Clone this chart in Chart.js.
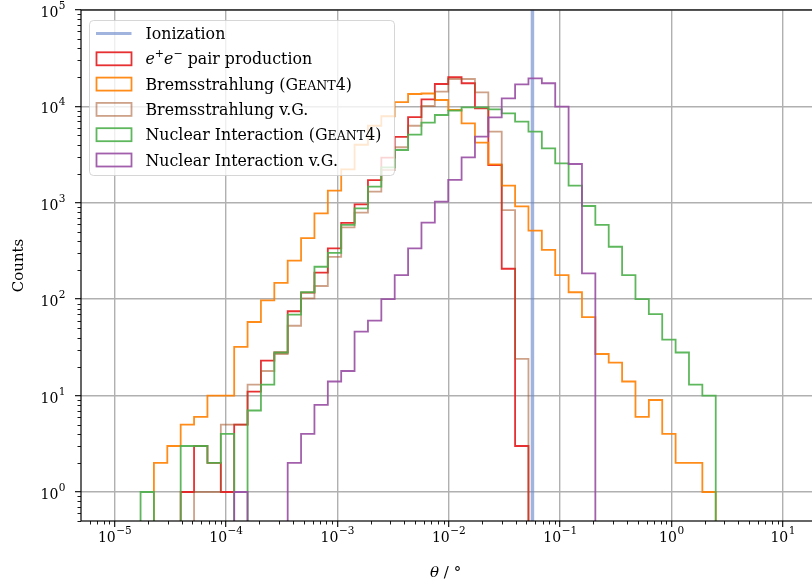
<!DOCTYPE html>
<html>
<head>
    <meta charset="UTF-8">
    <script src="https://cdn.jsdelivr.net/npm/chart.js@4.4.0/dist/chart.umd.min.js"></script>
    <title>Deflection angles</title>
    <style>
        html, body { margin: 0; padding: 0; overflow: hidden; background: #fff; }
        .chart-container { position: relative; width: 840px; height: 587px; }
    </style>
</head>
<body>
    <div class="chart-container">
        <canvas id="angleChart"></canvas>
    </div>

    <script>
        // 43 log-spaced bins between the first and last edge
        const firstEdge = 1.713e-5;
        const lastEdge = 2.505;
        const nBins = 43;
        const binEdges = [];
        for (let i = 0; i <= nBins; i++) {
            const l0 = Math.log10(firstEdge), l1 = Math.log10(lastEdge);
            binEdges.push(Math.pow(10, l0 + i * (l1 - l0) / nBins));
        }

        // counts per bin
        const pairProduction = [0, 0, 0, 1, 3, 2, 1, 5, 11, 23, 28, 75, 117, 189, 337, 620, 965, 1720, 2940, 4820,
            7750, 11840, 17070, 20050, 17380, 9550, 2460, 207, 3, 0, 0, 0, 0, 0, 0, 0, 0, 0, 0, 0, 0, 0, 0];
        const bremsGeant = [0, 2, 3, 5, 6, 10, 10, 32, 58, 97, 148, 251, 430, 778, 1340, 2225, 4000, 6300, 7900, 11100,
            13450, 13600, 11650, 9180, 6670, 4200, 2500, 1510, 920, 514, 324, 178, 118, 65, 27, 22, 14, 6, 9, 4, 2, 2, 1];
        const bremsVG = [0, 0, 0, 0, 1, 1, 5, 5, 13, 18, 27, 53, 102, 137, 275, 557, 790, 1303, 2188, 3770,
            6300, 10090, 14210, 19230, 19230, 14000, 5470, 841, 24, 0, 0, 0, 0, 0, 0, 0, 0, 0, 0, 0, 0, 0, 0];
        const nuclearGeant = [1, 0, 0, 3, 3, 2, 4, 0, 7, 13, 28, 69, 118, 217, 302, 589, 877, 1469, 2335, 3530,
            5100, 6780, 8140, 9040, 9770, 9770, 9330, 8480, 6950, 5470, 3670, 2570, 1510, 926, 589, 350, 178, 100, 70, 38, 28, 13, 10];
        const nuclearVG = [0, 0, 0, 0, 0, 0, 0, 1, 0, 0, 0, 2, 4, 8, 14, 18, 46, 60, 100, 178,
            337, 622, 1026, 1725, 2965, 4850, 7710, 12140, 16950, 19550, 17380, 9930, 2525, 185, 0, 0, 0, 0, 0, 0, 0, 0, 0];
        const ionizationAngle = 0.0566;

        const xMin = 5e-6, xMax = 20;
        const yMin = 0.5, yMax = 1e5;
        const xTickExponents = [-5, -4, -3, -2, -1, 0, 1];
        const yTickExponents = [0, 1, 2, 3, 4, 5];

        const FONT = '"DejaVu Serif", serif';

        // empty bins sit below the log axis, so the line drops out of the plot (clipped)
        const belowAxis = yMin / 10;
        function stepPoints(counts) {
            const y = c => (c > 0 ? c : belowAxis);
            const pts = [{ x: binEdges[0], y: belowAxis }];
            counts.forEach((c, i) => pts.push({ x: binEdges[i], y: y(c) }));
            pts.push({ x: binEdges[nBins], y: y(counts[nBins - 1]) });
            pts.push({ x: binEdges[nBins], y: belowAxis });
            return pts;
        }

        const legendItems = [
            { color: 'rgba(110,140,205,0.65)', line: true, parts: [{ t: 'Ionization' }] },
            { color: 'rgba(228,26,28,0.9)', parts: [{ t: 'e', it: true }, { t: '+', sup: true }, { t: 'e', it: true }, { t: '\u2212', sup: true }, { t: ' pair production' }] },
            { color: 'rgba(255,127,0,0.9)', parts: [{ t: 'Bremsstrahlung (G' }, { t: 'EANT', sc: true }, { t: '4)' }] },
            { color: 'rgba(166,86,40,0.55)', parts: [{ t: 'Bremsstrahlung v.G.' }] },
            { color: 'rgba(77,175,74,0.9)', parts: [{ t: 'Nuclear Interaction (G' }, { t: 'EANT', sc: true }, { t: '4)' }] },
            { color: 'rgba(152,78,163,0.9)', parts: [{ t: 'Nuclear Interaction v.G.' }] }
        ];

        function drawPower(ctx, exp, x, y, align) {
            const base = '10';
            const sup = exp < 0 ? '\u2212' + (-exp) : String(exp);
            ctx.font = '14px ' + FONT;
            const wb = ctx.measureText(base).width;
            ctx.font = '10.5px ' + FONT;
            const ws = ctx.measureText(sup).width;
            const x0 = align === 'center' ? x - (wb + ws) / 2 : x - wb - ws;
            ctx.textAlign = 'left';
            ctx.textBaseline = 'alphabetic';
            ctx.font = '14px ' + FONT;
            ctx.fillText(base, x0, y);
            ctx.font = '10.5px ' + FONT;
            ctx.fillText(sup, x0 + wb + 0.5, y - 8);
        }

        function drawRich(ctx, parts, x, y) {
            let cx = x;
            parts.forEach(p => {
                let size = 15.8, dy = 0, style = '';
                if (p.sc) size = 12.6;
                if (p.sup) { size = 11; dy = -7; }
                if (p.it) style = 'italic ';
                ctx.font = style + size + 'px ' + FONT;
                ctx.fillText(p.t, cx, y + dy);
                cx += ctx.measureText(p.t).width;
            });
        }

        const decorPlugin = {
            id: 'decor',
            afterDatasetsDraw(chart) {
                const ctx = chart.ctx, a = chart.chartArea;
                const xs = chart.scales.x, ys = chart.scales.y;
                ctx.save();

                // frame
                ctx.strokeStyle = '#000';
                ctx.lineWidth = 1.2;
                ctx.strokeRect(a.left, a.top, a.right - a.left, a.bottom - a.top);

                // minor ticks
                ctx.lineWidth = 0.9;
                ctx.beginPath();
                for (let e = -6; e <= 1; e++) {
                    for (let m = 2; m <= 9; m++) {
                        const v = m * Math.pow(10, e);
                        if (v < xMin || v > xMax) continue;
                        const px = Math.round(xs.getPixelForValue(v)) + 0.5;
                        ctx.moveTo(px, a.bottom);
                        ctx.lineTo(px, a.bottom + 3.5);
                    }
                }
                for (let e = -1; e <= 4; e++) {
                    for (let m = 2; m <= 9; m++) {
                        const v = m * Math.pow(10, e);
                        if (v < yMin || v > yMax) continue;
                        const py = Math.round(ys.getPixelForValue(v)) + 0.5;
                        ctx.moveTo(a.left, py);
                        ctx.lineTo(a.left - 3.5, py);
                    }
                }
                ctx.stroke();

                // tick labels
                ctx.fillStyle = '#000';
                xTickExponents.forEach(e => {
                    drawPower(ctx, e, xs.getPixelForValue(Math.pow(10, e)), a.bottom + 21, 'center');
                });
                yTickExponents.forEach(e => {
                    drawPower(ctx, e, 65, ys.getPixelForValue(Math.pow(10, e)) + 7, 'right');
                });

                // axis titles
                ctx.textBaseline = 'alphabetic';
                ctx.font = 'italic 15px ' + FONT;
                const wTheta = ctx.measureText('\u03b8').width;
                ctx.font = '15px ' + FONT;
                const wRest = ctx.measureText(' / \u00b0').width;
                const cx = (a.left + a.right) / 2 - 3 - (wTheta + wRest) / 2;
                ctx.textAlign = 'left';
                ctx.font = 'italic 15px ' + FONT;
                ctx.fillText('\u03b8', cx, 577);
                ctx.font = '15px ' + FONT;
                ctx.fillText(' / \u00b0', cx + wTheta, 577);

                ctx.save();
                ctx.translate(23, (a.top + a.bottom) / 2);
                ctx.rotate(-Math.PI / 2);
                ctx.textAlign = 'center';
                ctx.font = '15px ' + FONT;
                ctx.fillText('Counts', 0, 0);
                ctx.restore();

                // legend
                ctx.beginPath();
                ctx.roundRect(89.5, 20.5, 305, 155, 4);
                ctx.fillStyle = 'rgba(255,255,255,0.8)';
                ctx.fill();
                ctx.strokeStyle = 'rgba(204,204,204,0.8)';
                ctx.lineWidth = 1;
                ctx.stroke();
                legendItems.forEach((item, i) => {
                    const cy = 33.5 + i * 25.3;
                    if (item.line) {
                        ctx.strokeStyle = item.color;
                        ctx.lineWidth = 3.2;
                        ctx.beginPath();
                        ctx.moveTo(96, cy);
                        ctx.lineTo(131.5, cy);
                        ctx.stroke();
                    } else {
                        ctx.strokeStyle = item.color;
                        ctx.lineWidth = 1.8;
                        ctx.strokeRect(96.5, cy - 6.5, 35, 13);
                    }
                    ctx.fillStyle = '#000';
                    ctx.textAlign = 'left';
                    drawRich(ctx, item.parts, 145.5, cy + 5.5);
                });

                ctx.restore();
            }
        };

        const histStyle = { borderWidth: 1.8, pointRadius: 0, stepped: 'before', fill: false };

        new Chart(document.getElementById('angleChart'), {
            type: 'line',
            data: {
                datasets: [
                    { ...histStyle, label: 'Nuclear Interaction v.G.', data: stepPoints(nuclearVG), borderColor: 'rgba(152,78,163,0.9)', order: 1 },
                    { ...histStyle, label: 'Nuclear Interaction (Geant4)', data: stepPoints(nuclearGeant), borderColor: 'rgba(77,175,74,0.9)', order: 2 },
                    { ...histStyle, label: 'Bremsstrahlung v.G.', data: stepPoints(bremsVG), borderColor: 'rgba(166,86,40,0.55)', order: 3 },
                    { ...histStyle, label: 'Bremsstrahlung (Geant4)', data: stepPoints(bremsGeant), borderColor: 'rgba(255,127,0,0.9)', order: 4 },
                    { ...histStyle, label: 'e+e- pair production', data: stepPoints(pairProduction), borderColor: 'rgba(228,26,28,0.9)', order: 5 },
                    {
                        label: 'Ionization', data: [{ x: ionizationAngle, y: belowAxis }, { x: ionizationAngle, y: yMax * 10 }],
                        borderColor: 'rgba(110,140,205,0.65)', borderWidth: 3.5, pointRadius: 0, order: 6
                    }
                ]
            },
            options: {
                responsive: true,
                maintainAspectRatio: false,
                animation: false,
                layout: { padding: { left: 0, right: 840 - 816.2, top: 10, bottom: 0 } },
                plugins: { legend: { display: false }, tooltip: { enabled: false } },
                scales: {
                    x: {
                        type: 'logarithmic',
                        min: xMin,
                        max: xMax,
                        afterBuildTicks: s => { s.ticks = xTickExponents.map(e => ({ value: Math.pow(10, e) })); },
                        afterFit: s => { s.height = 66; },
                        ticks: { display: false },
                        border: { display: false },
                        grid: { color: '#b0b0b0', lineWidth: 1.4, tickColor: '#000', tickLength: 6, tickWidth: 1.1 }
                    },
                    y: {
                        type: 'logarithmic',
                        min: yMin,
                        max: yMax,
                        afterBuildTicks: s => { s.ticks = yTickExponents.map(e => ({ value: Math.pow(10, e) })); },
                        afterFit: s => { s.width = 81; },
                        ticks: { display: false },
                        border: { display: false },
                        grid: { color: '#b0b0b0', lineWidth: 1.4, tickColor: '#000', tickLength: 6, tickWidth: 1.1 }
                    }
                }
            },
            plugins: [decorPlugin]
        });
    </script>
</body>
</html>
